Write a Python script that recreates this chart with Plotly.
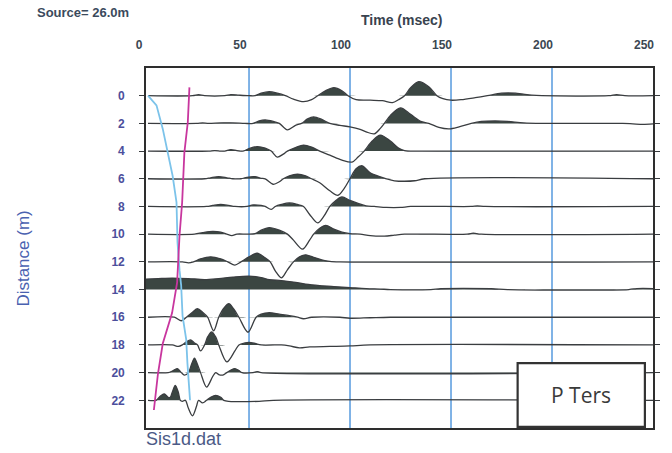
import plotly.graph_objects as go

# ---- data: first-break record, Sis1d.dat (source at 26.0 m) ----
# Each trace: key times (ms) and relative amplitudes (positive = up).
T_00 = [0, 22, 25, 28, 38, 41, 45, 50, 53, 56, 60, 64, 68, 72, 77, 81, 84, 88, 92, 96, 99, 103, 110, 116, 121, 124, 127, 130, 134, 139, 143, 146, 150, 155, 162, 168, 175, 182, 190, 195, 228, 232, 236, 250]
A_00 = [0, 0, 1, 0, 0, 1, 0.5, 0, 0, 2.5, 4, 2.5, 0, -3.5, -6, -4, 0, 5, 8, 5, 0, -4, -4.5, -5, -7, -4, 0, 8, 14, 9, 0, -3, -4.5, -4, -2, 0, 2.5, 2.5, 0.5, 0, 0, 1, 0, 0]

T_02 = [0, 24, 27, 30, 36, 42, 48, 52, 55, 58, 62, 65, 69, 73, 76, 79, 82, 86, 90, 95, 100, 105, 108, 112, 115, 117, 120, 125, 130, 135, 139, 144, 149, 154, 160, 165, 172, 178, 186, 195, 235, 240, 245, 250]
A_02 = [0, 0, 0.5, 0, 0.5, 0.5, 0, 0, 2.5, 3.5, 2, 0, -6.5, -2, 0, 4.5, 6.5, 4, 0, -2, -3.5, -6, -8.5, -10.5, -5, 0, 8, 15.5, 9, 2, 0, -4, -5.5, -3.5, 0, 2, 2.5, 2, 0.5, 0, 0, -0.5, -1, -0.5]

T_04 = [0, 30, 33, 36, 38, 41, 44, 47, 50, 54, 58, 61, 64, 67, 69, 73, 77, 81, 85, 90, 96, 101, 104, 107, 111, 115, 120, 124, 127, 135, 250]
A_04 = [0, 0, 0.5, 0, 0, 1.5, 0.5, 0, 2.5, 4.5, 3, 0, -6, -3, 0, 3.5, 6, 4, 0, -4, -9, -11, -6, 0, 10, 16, 10, 3, 0.5, 0, 0]

T_06 = [0, 28, 31, 35, 39, 42, 46, 49, 53, 56, 58, 62, 65, 67, 70, 74, 78, 81, 85, 90, 94, 97, 100, 103, 106, 110, 115, 118, 122, 127, 132, 137, 250]
A_06 = [0, 0, 1, 2, 1, 0, 0, 1.5, 2, 0.5, 0, -5.5, -3, 0, 3, 4.5, 3, 0, -4, -12, -16.5, -10, 0, 10, 13, 6, 2, 0, -2, -2.5, -2, 0, 0]

T_08 = [0, 29, 32, 36, 40, 43, 49, 52, 56, 58, 61, 63, 66, 70, 74, 77, 80, 84, 87, 90, 93, 96, 100, 104, 108, 112, 118, 125, 130, 160, 163, 167, 250]
A_08 = [0, 0, 1, 2, 1, 0, 0, 1.5, 1, 0, -3, 0, 2, 3.5, 2, 0, -8, -16.5, -10, 0, 6, 9.5, 6, 3, 0.5, 0, -1, -1, 0, 0, 0.5, 0, 0]

T_10 = [0, 23, 27, 32, 36, 39, 41.5, 44, 49, 53, 56, 60, 65, 69, 72, 76.5, 80, 82, 85, 88, 92, 96, 100, 105, 110, 117, 122, 127, 158, 161, 165, 250]
A_10 = [0, 0, 1.5, 2.8, 2, 0, -1.5, 0, 0, 0.5, 4, 6.5, 4, 0, -6, -15, -6, 0, 6, 8.8, 5, 2, 0.5, 0, -1.5, -2, -1, 0, 0, 1, 0, 0]

T_12 = [0, 17, 20, 22.5, 26, 31, 36, 39.5, 43, 46, 50, 54, 58, 60.5, 63, 66, 69, 72, 75, 78, 82, 86, 90, 95, 250]
A_12 = [0, 0, -1, 0, 3, 5, 3, 0, -3.2, 0, 5, 8.6, 4, 0, -9, -16, -8, 0, 5, 7, 4.5, 2, 0.5, 0, 0]

T_14 = [-1, 5, 12, 20, 28, 35, 42, 50, 56, 60, 66, 72, 78, 85, 92, 100, 108, 115, 120, 140, 145, 170, 178, 238, 242, 250]
A_14 = [10.5, 11, 11.5, 11, 10, 11, 12.5, 13.5, 12, 10, 9, 7.5, 5.5, 4, 3, 2, 1, 0.5, 0, 0, 0.8, 0.8, 0, 0, 1, 1]

T_16 = [0, 13, 16.5, 19, 22, 24.5, 27, 29.5, 32.5, 35, 37.5, 40, 42.5, 45, 49.5, 53.5, 56, 60, 65, 70, 74, 77, 81, 95, 100, 110, 120, 250]
A_16 = [0, 0, -3.5, 0, 5, 8.5, 5, 0, -13.5, 0, 9, 13.5, 8, 0, -15, 0, 3, 4.5, 3, 1.5, 0, -1.5, 0, 0, -1, -0.5, 0, 0]

T_18 = [0, 12, 15, 17, 19, 21, 23, 24.5, 26, 28, 29.5, 31.5, 33.5, 35, 39, 43, 45, 48, 50, 53, 56, 66, 70, 75, 80, 90, 100, 110, 250]
A_18 = [0, 0, -1.5, 0, 3, 5, 2, 0, -6, 0, 8, 13, 8, 0, -17, -6, 0, 2, 2.5, 1.5, 0, 0, -1, -3, -2, -1.5, -1, 0, 0]

T_20 = [0, 10, 12, 14.5, 16.5, 18, 20, 21.5, 23, 24.5, 26, 29, 32, 33.5, 35, 37, 39, 41, 43, 45, 46.5, 52, 54, 56, 250]
A_20 = [0, 0, 1.5, 4, 0, -2.5, 0, 8, 14.5, 8, 0, -14.5, -4, 0, -2, -2.5, 0, 2.5, 4, 2, 0, 0, 1, 0, 0]

T_22 = [0, 4, 6, 8, 10, 11, 12, 13.5, 15, 16, 17, 18.5, 20, 22, 24, 25, 27, 29, 31, 33.5, 36, 37.5, 40, 55, 62, 250]
A_22 = [0, 0, 4, 6.5, 3, 3, 8, 15, 8, 0, -1, 0, -8, -15.5, -6, 0, -2.5, 0, 3, 5, 3, 0, -1, -1, 0, 0]

OFFSETS = [0, 2, 4, 6, 8, 10, 12, 14, 16, 18, 20, 22]
TIMES = [T_00, T_02, T_04, T_06, T_08, T_10, T_12, T_14, T_16, T_18, T_20, T_22]
AMPS = [A_00, A_02, A_04, A_06, A_08, A_10, A_12, A_14, A_16, A_18, A_20, A_22]

# first-break picks (time ms, distance m)
PICK_A_T = [20.5, 19.7, 18.0, 16.9, 15.6, 14.9, 14.4, 11.9, 7.3, 4.9, 3.4, 2.9]
PICK_A_D = [-0.6, 1.9, 4.1, 7.7, 10.1, 12.1, 13.5, 15.7, 17.9, 20.1, 22.0, 22.7]
PICK_B_T = [0, 4.2, 7.3, 9.8, 12.2, 14.1, 14.6, 15.6, 16.4, 17.1, 18.9, 19.5, 20.5, 20.8]
PICK_B_D = [0, 0.7, 2.4, 4.1, 5.8, 7.7, 10.6, 12.6, 13.7, 15.9, 17.6, 19.3, 21.0, 22.0]

TIME_TICKS = [0, 50, 100, 150, 200, 250]
GRID_TIMES = [50, 100, 150, 200]

# ---- styling ----
TRACE_GAIN = 1 / 13.85          # metres of offset per amplitude unit
WIGGLE = "#3a3d40"
FILL = "#3b4642"
GRID = "#6aa6e2"
FRAME = "#2e2e2e"
FONT = "Liberation Sans"

fig = go.Figure()

for tt in GRID_TIMES:
    fig.add_shape(type="line", xref="x", yref="paper", x0=tt, x1=tt, y0=0, y1=1,
                  line=dict(color=GRID, width=1.7), layer="below")

for d, ts, amps in zip(OFFSETS, TIMES, AMPS):
    # baseline, then positive lobes filled up to it
    fig.add_trace(go.Scatter(x=[ts[0], ts[-1]], y=[d, d], mode="lines",
                             line=dict(width=0, color=WIGGLE), hoverinfo="skip",
                             showlegend=False))
    fig.add_trace(go.Scatter(x=ts, y=[d - TRACE_GAIN * max(a, 0) for a in amps],
                             mode="lines", fill="tonexty", fillcolor=FILL,
                             line=dict(width=0, color=FILL, shape="spline", smoothing=0.9),
                             hoverinfo="skip", showlegend=False))
    fig.add_trace(go.Scatter(x=ts, y=[d - TRACE_GAIN * a for a in amps], mode="lines",
                             line=dict(width=1.3, color=WIGGLE, shape="spline", smoothing=0.9),
                             showlegend=False))

fig.add_trace(go.Scatter(x=PICK_B_T, y=PICK_B_D, mode="lines",
                         line=dict(color="#7cc3ea", width=1.8), showlegend=False))
fig.add_trace(go.Scatter(x=PICK_A_T, y=PICK_A_D, mode="lines",
                         line=dict(color="#c8369e", width=1.8), showlegend=False))

# label box in the lower right corner
fig.add_shape(type="rect", xref="paper", yref="paper", x0=0.733, x1=0.984, y0=0.003, y1=0.18,
              line=dict(color="#333333", width=2.2), fillcolor="white", layer="above")

fig.add_annotation(xref="paper", yref="paper", x=0.858, y=0.092, text="P Ters",
                   xanchor="center", yanchor="middle", showarrow=False,
                   font=dict(family="Open Sans", size=21, color="#3a3a3a"))
fig.add_annotation(xref="paper", yref="paper", x=-0.218, y=1.153, text="Source= 26.0m",
                   xanchor="left", yanchor="middle", showarrow=False,
                   font=dict(family=FONT, size=13, color="#3b4a5c", weight="bold"))
fig.add_annotation(xref="paper", yref="paper", x=0.504, y=1.133, text="Time (msec)",
                   xanchor="center", yanchor="middle", showarrow=False,
                   font=dict(family=FONT, size=14, color="#39434f", weight="bold"))
fig.add_annotation(xref="paper", yref="paper", x=-0.241, y=0.47, text="Distance (m)",
                   xanchor="center", yanchor="middle", textangle=-90, showarrow=False,
                   font=dict(family=FONT, size=17, color="#4a62b0"))
fig.add_annotation(xref="paper", yref="paper", x=-0.004, y=-0.03, text="Sis1d.dat",
                   xanchor="left", yanchor="middle", showarrow=False,
                   font=dict(family=FONT, size=18, color="#4b5a86"))

fig.update_layout(
    width=672, height=453,
    margin=dict(l=146, r=12, t=68, b=25),
    paper_bgcolor="white", plot_bgcolor="white",
    xaxis=dict(range=[-1, 250], side="top", tickvals=TIME_TICKS, showgrid=False,
               zeroline=False, showline=True, mirror=True, linecolor=FRAME, linewidth=1.6,
               ticks="", ticklabelshift=-9, ticklabelstandoff=12,
               tickfont=dict(family=FONT, size=12, color="#3b4752", weight="bold")),
    yaxis=dict(range=[24.0, -2.0], tickvals=OFFSETS, showgrid=False, zeroline=False,
               showline=True, mirror="ticks", linecolor=FRAME, linewidth=1.6,
               ticks="outside", ticklen=5, tickwidth=1.3, tickcolor=WIGGLE,
               ticklabelstandoff=12,
               tickfont=dict(family=FONT, size=12, color="#4c4f9c", weight="bold")),
)

fig.write_html("out.html")
